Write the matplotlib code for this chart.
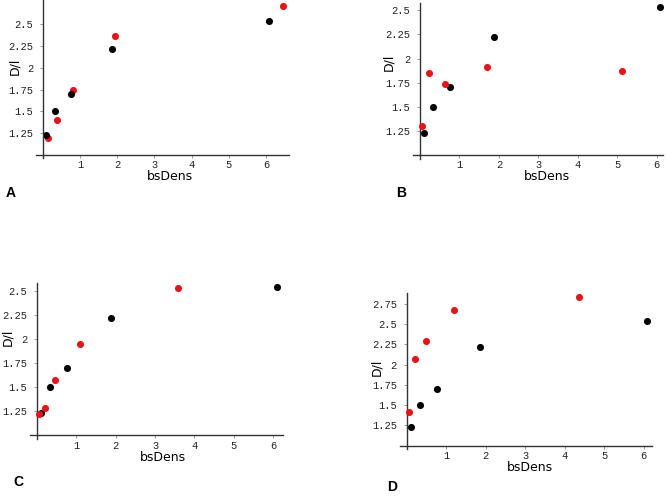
import numpy as np
import matplotlib
matplotlib.use('Agg')
import matplotlib.pyplot as plt

# black series is the same in every panel
bs_black = [0.10, 0.33, 0.77, 1.87, 6.09]
dl_black = [1.23, 1.50, 1.70, 2.22, 2.54]

bs_red_a = [0.14, 0.38, 0.81, 1.95, 6.46]
dl_red_a = [1.19, 1.40, 1.74, 2.37, 2.71]
bs_red_b = [0.06, 0.23, 0.63, 1.70, 5.11]
dl_red_b = [1.30, 1.85, 1.73, 1.91, 1.87]
bs_red_c = [0.05, 0.20, 0.47, 1.09, 3.57]
dl_red_c = [1.22, 1.28, 1.58, 1.95, 2.53]
bs_red_d = [0.07, 0.21, 0.49, 1.21, 4.37]
dl_red_d = [1.42, 2.07, 2.29, 2.68, 2.84]

x_ticks = [1, 2, 3, 4, 5, 6]
y_ticks = [1.25, 1.5, 1.75, 2, 2.25, 2.5]
y_ticks_d = [1.25, 1.5, 1.75, 2, 2.25, 2.5, 2.75]
y_ticklabels = ['1.25', '1.5', '1.75', '2', '2.25', '2.5']
y_ticklabels_d = ['1.25', '1.5', '1.75', '2', '2.25', '2.5', '2.75']

W, H = 667, 498
fig = plt.figure(figsize=(W / 100, H / 100), dpi=100)

# box = (left, right, top, bottom) in pixels
panels = [
    dict(box=(36, 289, 0, 158.3), xmax=6.62, ymax=2.78, bs=bs_red_a, dl=dl_red_a, red_top=False,
         yt=y_ticks, ytl=y_ticklabels, xl=(170, 176), yl=(15, 66), letter='A', lp=(11, 193)),
    dict(box=(412.8, 662.7, 2.7, 158.6), xmax=6.15, ymax=2.58, bs=bs_red_b, dl=dl_red_b, red_top=True,
         yt=y_ticks, ytl=y_ticklabels, xl=(547, 176), yl=(389, 62), letter='B', lp=(401, 193)),
    dict(box=(29.9, 282.7, 283.3, 439.2), xmax=6.24, ymax=2.58, bs=bs_red_c, dl=dl_red_c, red_top=True,
         yt=y_ticks, ytl=y_ticklabels, xl=(163, 457), yl=(8, 337), letter='C', lp=(18, 482)),
    dict(box=(399.5, 652.3, 293.3, 449), xmax=6.22, ymax=2.88, bs=bs_red_d, dl=dl_red_d, red_top=True,
         yt=y_ticks_d, ytl=y_ticklabels_d, xl=(530, 467), yl=(377, 367), letter='D', lp=(392, 487)),
]

for p in panels:
    l, r, t, b = p['box']
    ax = fig.add_axes([l / W, 1 - b / H, (r - l) / W, (b - t) / H])
    ax.set_xlim(-0.18, p['xmax'])
    ax.set_ylim(0.96, p['ymax'])
    red_z = 3 if p['red_top'] else 1
    ax.scatter(bs_black, dl_black, s=26, color='black', zorder=2, linewidths=0, clip_on=False)
    ax.scatter(p['bs'], p['dl'], s=26, color='#e8141a', zorder=red_z, linewidths=0, clip_on=False)
    for s in ['top', 'right']:
        ax.spines[s].set_visible(False)
    ax.spines['left'].set_position(('data', 0))
    ax.spines['bottom'].set_position(('data', 1.0))
    for s in ['left', 'bottom']:
        ax.spines[s].set_color('#333333')
        ax.spines[s].set_linewidth(1.0)
    ax.set_xticks(x_ticks)
    ax.set_yticks(p['yt'])
    ax.set_yticklabels(p['ytl'])
    ax.tick_params(length=2, width=0.6, color='#888888', labelsize=7.5, pad=2, labelcolor='#222222')
    ax.tick_params(axis='y', pad=5)
    for lab in ax.get_xticklabels() + ax.get_yticklabels():
        lab.set_family('Liberation Mono')
    ax.patch.set_alpha(0)
    fig.text(p['xl'][0] / W, 1 - p['xl'][1] / H, 'bsDens', ha='center', va='center', fontsize=9)
    fig.text(p['yl'][0] / W, 1 - p['yl'][1] / H, 'D/l', ha='center', va='center', fontsize=9,
             rotation=90)
    fig.text(p['lp'][0] / W, 1 - p['lp'][1] / H, p['letter'], ha='center', va='center',
             fontsize=10, fontweight='bold', family='Liberation Sans')

fig.savefig('out.png', dpi=100)
